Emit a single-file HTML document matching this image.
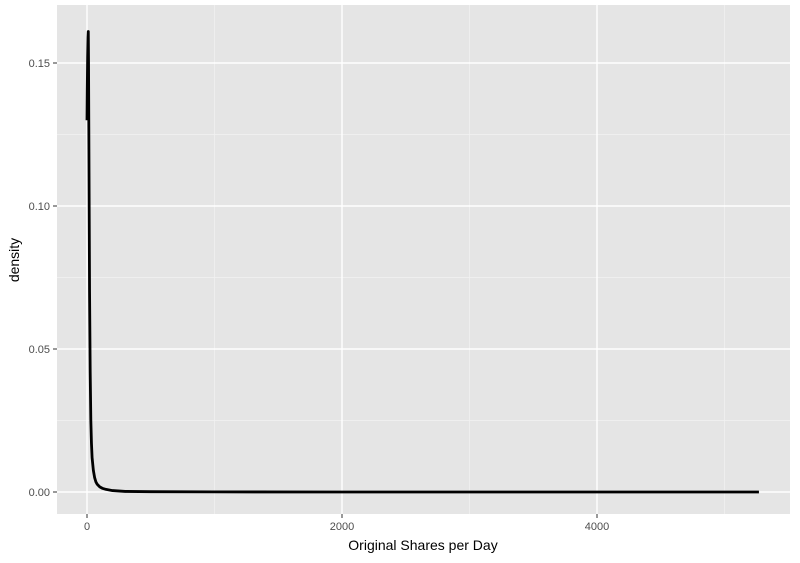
<!DOCTYPE html>
<html><head><meta charset="utf-8"><style>
body{margin:0;background:#fff;font-family:"Liberation Sans",sans-serif}
svg text{font-family:"Liberation Sans",sans-serif}
</style></head><body>
<svg id="chart" width="800" height="558" xmlns="http://www.w3.org/2000/svg">
<rect x="57" y="5" width="733" height="509" fill="#e5e5e5"/>
<g id="grid"></g><g id="axes"></g>
<path id="curve" fill="none" stroke="#000" stroke-width="2.8" stroke-linejoin="round"/>
<text x="423" y="550" text-anchor="middle" font-size="14">Original Shares per Day</text>
<text transform="translate(19,260) rotate(-90)" text-anchor="middle" font-size="14">density</text>
</svg>
<script>
const xVals=[0,2,5,8,10,12,15,18,20,25,30,35,40,50,60,70,80,100,120,150,200,300,500,1000,2000,3000,4000,5000,5270];
const yVals=[0.130,0.140,0.152,0.159,0.161,0.150,0.120,0.090,0.070,0.042,0.025,0.017,0.012,0.0075,0.005,0.0035,0.0027,0.0018,0.0013,0.0009,0.0005,0.0002,0.0001,0.00003,0.00001,0.00001,0.00001,0.000005,0];
const xTicks=[0,2000,4000];
const yTicks=[0,0.05,0.10,0.15];
const yTickLabels=["0.00","0.05","0.10","0.15"];
const sx=v=>87+v*(255/2000);
const sy=v=>492-v*(143/0.05);
const ns="http://www.w3.org/2000/svg";
const grid=document.getElementById('grid'),axes=document.getElementById('axes');
function line(p,x1,y1,x2,y2,c,w,name){const l=document.createElementNS(ns,'line');
l.setAttribute('x1',x1);l.setAttribute('y1',y1);l.setAttribute('x2',x2);l.setAttribute('y2',y2);
l.setAttribute('stroke',c);l.setAttribute('stroke-width',w);


p.appendChild(l);}
function text(x,y,s,anchor,name){const t=document.createElementNS(ns,'text');
t.setAttribute('x',x);t.setAttribute('y',y);t.setAttribute('text-anchor',anchor);t.setAttribute('font-size','11');t.setAttribute('fill','#4d4d4d');t.textContent=s;


axes.appendChild(t);}
for(let i=0;i<xTicks.length;i++){const v=xTicks[i];line(grid,sx(v+1000),5,sx(v+1000),514,'#f2f2f2',0.7,'x-minor-grid');}
for(let i=0;i<yTicks.length-1;i++){const v=(yTicks[i]+yTicks[i+1])/2;line(grid,57,sy(v),790,sy(v),'#f2f2f2',0.7,'y-minor-grid');}
xTicks.forEach(v=>{line(grid,sx(v),5,sx(v),514,'#fff',1.4,'x-major-grid');line(axes,sx(v),514,sx(v),518,'#333',1,'x-tick');text(sx(v),530,String(v),'middle','x-tick-label');});
yTicks.forEach((v,i)=>{line(grid,57,sy(v),790,sy(v),'#fff',1.4,'y-major-grid');line(axes,53,sy(v),57,sy(v),'#333',1,'y-tick');text(50,sy(v)+4,yTickLabels[i],'end','y-tick-label');});
document.getElementById('curve').setAttribute('d',xVals.map((x,i)=>(i?'L':'M')+sx(x).toFixed(2)+','+sy(yVals[i]).toFixed(2)).join(''));
</script>
</body></html>
